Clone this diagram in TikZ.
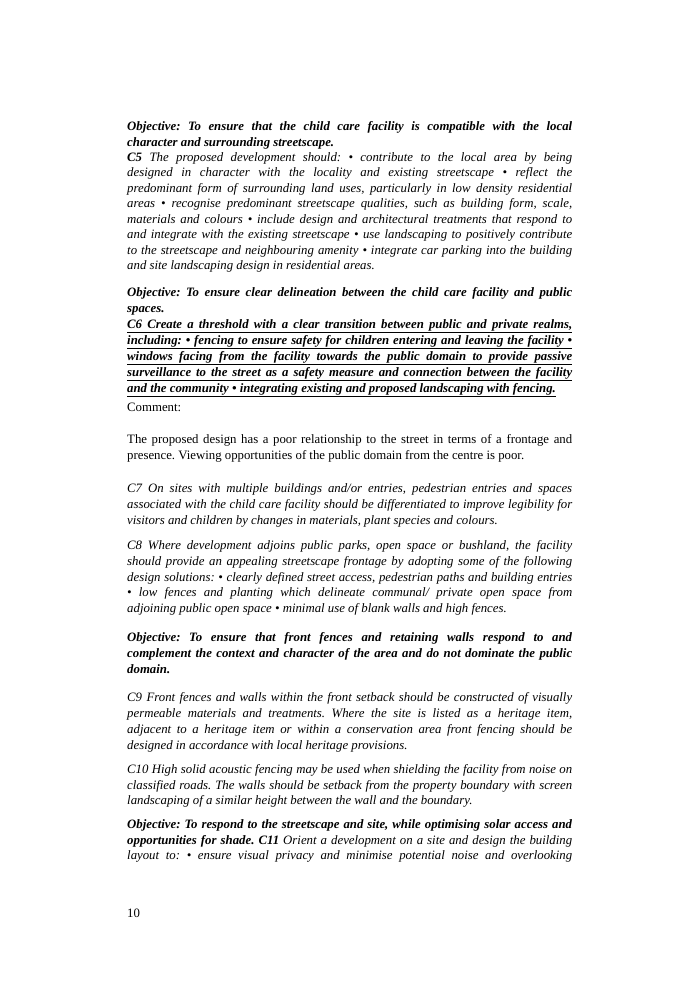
\documentclass[tikz,border=0pt]{standalone}
\usepackage{fontspec}
\setmainfont{Liberation Serif}
\frenchspacing
\newcounter{ln}
\newcommand{\J}[2]{\stepcounter{ln}\node[txt] (l\theln) at (127pt,-#1pt) {\makebox[445pt][s]{#2}};}
\newcommand{\N}[2]{\stepcounter{ln}\node[txt] (l\theln) at (127pt,-#1pt) {#2};}
\newcommand{\U}[1]{\underline{#1}}
\begin{document}
\begin{tikzpicture}[txt/.style={anchor=base west,inner sep=0pt,font=\fontsize{12.8}{15}\selectfont\frenchspacing}]
\useasboundingbox (0,0) rectangle (694pt,-990pt);
\fill[white] (0,0) rectangle (694pt,-990pt);
\J{130}{\textbf{\textit{Objective: To ensure that the child care facility is compatible with the local}}}
\N{146}{\textbf{\textit{character and surrounding streetscape.}}}
\J{161}{\textit{\textbf{C5} The proposed development should: • contribute to the local area by being}}
\J{176}{\textit{designed in character with the locality and existing streetscape • reflect the}}
\J{192}{\textit{predominant form of surrounding land uses, particularly in low density residential}}
\J{207}{\textit{areas • recognise predominant streetscape qualities, such as building form, scale,}}
\J{223}{\textit{materials and colours • include design and architectural treatments that respond to}}
\J{238}{\textit{and integrate with the existing streetscape • use landscaping to positively contribute}}
\J{254}{\textit{to the streetscape and neighbouring amenity • integrate car parking into the building}}
\N{269}{\textit{and site landscaping design in residential areas.}}
\J{296}{\textbf{\textit{Objective: To ensure clear delineation between the child care facility and public}}}
\N{312}{\textbf{\textit{spaces.}}}
\J{328}{\U{\makebox[445pt][s]{\textbf{\textit{C6 Create a threshold with a clear transition between public and private realms,}}}}}
\J{344}{\U{\makebox[445pt][s]{\textbf{\textit{including: • fencing to ensure safety for children entering and leaving the facility •}}}}}
\J{360}{\U{\makebox[445pt][s]{\textbf{\textit{windows facing from the facility towards the public domain to provide passive}}}}}
\J{376}{\U{\makebox[445pt][s]{\textbf{\textit{surveillance to the street as a safety measure and connection between the facility}}}}}
\N{392}{\U{\textbf{\textit{and the community • integrating existing and proposed landscaping with fencing.}}}}
\N{411}{Comment:}
\J{443}{The proposed design has a poor relationship to the street in terms of a frontage and}
\N{459}{presence. Viewing opportunities of the public domain from the centre is poor.}
\J{492}{\textit{C7 On sites with multiple buildings and/or entries, pedestrian entries and spaces}}
\J{508}{\textit{associated with the child care facility should be differentiated to improve legibility for}}
\N{524}{\textit{visitors and children by changes in materials, plant species and colours.}}
\J{549}{\textit{C8 Where development adjoins public parks, open space or bushland, the facility}}
\J{565}{\textit{should provide an appealing streetscape frontage by adopting some of the following}}
\J{581}{\textit{design solutions: • clearly defined street access, pedestrian paths and building entries}}
\J{596}{\textit{• low fences and planting which delineate communal/ private open space from}}
\N{612}{\textit{adjoining public open space • minimal use of blank walls and high fences.}}
\J{641}{\textbf{\textit{Objective: To ensure that front fences and retaining walls respond to and}}}
\J{657}{\textbf{\textit{complement the context and character of the area and do not dominate the public}}}
\N{673}{\textbf{\textit{domain.}}}
\J{701}{\textit{C9 Front fences and walls within the front setback should be constructed of visually}}
\J{717}{\textit{permeable materials and treatments. Where the site is listed as a heritage item,}}
\J{733}{\textit{adjacent to a heritage item or within a conservation area front fencing should be}}
\N{749}{\textit{designed in accordance with local heritage provisions.}}
\J{773}{\textit{C10 High solid acoustic fencing may be used when shielding the facility from noise on}}
\J{789}{\textit{classified roads. The walls should be setback from the property boundary with screen}}
\N{804}{\textit{landscaping of a similar height between the wall and the boundary.}}
\J{828}{\textbf{\textit{Objective: To respond to the streetscape and site, while optimising solar access and}}}
\J{844}{\textbf{\textit{opportunities for shade. C11}} \textit{Orient a development on a site and design the building}}
\J{859}{\textit{layout to: • ensure visual privacy and minimise potential noise and overlooking}}
\N{917}{10}
\end{tikzpicture}
\end{document}
